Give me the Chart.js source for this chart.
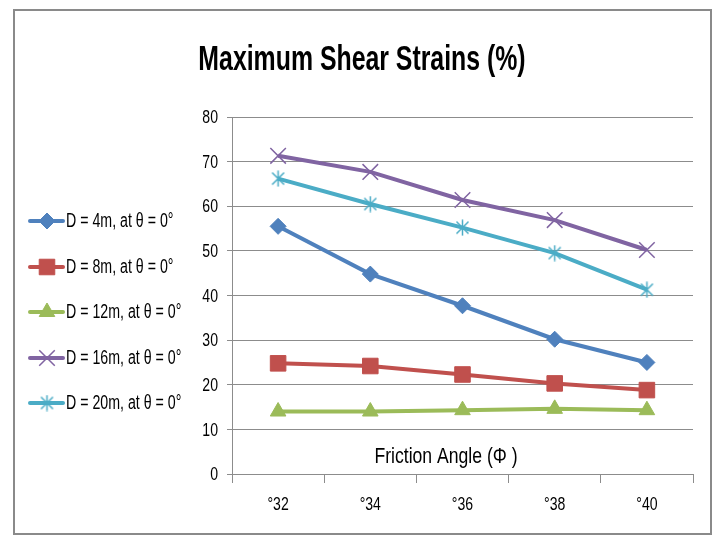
<!DOCTYPE html>
<html>
<head>
<meta charset="utf-8">
<style>
  html, body { margin: 0; padding: 0; background: #ffffff; }
  #wrap { width: 720px; height: 536px; position: relative; }
</style>
<script src="https://cdn.jsdelivr.net/npm/chart.js@4/dist/chart.umd.min.js"></script>
</head>
<body>
<div id="wrap"><canvas id="chart" width="720" height="536"></canvas></div>
<script>
// Friction angle categories (degree sign placed before the number, as printed)
const categories = ['°32', '°34', '°36', '°38', '°40'];

// Maximum shear strain (%) per tunnel depth, at θ = 0°
const strainD4  = [55.5, 44.8, 37.7, 30.2, 25.0];
const strainD8  = [24.8, 24.2, 22.3, 20.3, 18.8];
const strainD12 = [14.0, 14.0, 14.3, 14.6, 14.3];
const strainD16 = [71.3, 67.7, 61.4, 56.9, 50.2];
const strainD20 = [66.2, 60.5, 55.2, 49.5, 41.3];

const seriesNames = [
  'D = 4m, at θ = 0°',
  'D = 8m, at θ = 0°',
  'D = 12m, at θ = 0°',
  'D = 16m, at θ = 0°',
  'D = 20m, at θ = 0°'
];

const chartTitle = 'Maximum Shear Strains (%)';
const xAxisTitle = 'Friction Angle (Φ )';
const yMin = 0, yMax = 80, yStep = 10;

const FONT = "'Liberation Sans', Arial, sans-serif";
const GRID = '#8c8c8c';

// Draw text with a horizontal squeeze to get a tall, narrow face
function narrowText(ctx, text, x, y, o) {
  ctx.save();
  ctx.font = (o.bold ? 'bold ' : '') + o.size + 'px ' + FONT;
  ctx.fillStyle = o.color || '#000000';
  ctx.textAlign = o.align || 'left';
  ctx.textBaseline = o.baseline || 'middle';
  ctx.translate(x, y);
  ctx.scale(o.sx, 1);
  ctx.fillText(text, 0, 0);
  ctx.restore();
}

// Asterisk marker: an X with a vertical stroke
function makeAsterisk(color) {
  const c = document.createElement('canvas');
  c.width = 17; c.height = 17;
  const g = c.getContext('2d');
  g.strokeStyle = color;
  g.lineWidth = 1.5;
  g.beginPath();
  g.moveTo(2.5, 2.5); g.lineTo(14.5, 14.5);
  g.moveTo(14.5, 2.5); g.lineTo(2.5, 14.5);
  g.moveTo(8.5, 0.5); g.lineTo(8.5, 16.5);
  g.stroke();
  return c;
}

const colors = ['#4F81BD', '#C0504D', '#9BBB59', '#8064A2', '#4BACC6'];
const markers = [
  { style: 'rectRot', radius: 8, bw: 1 },
  { style: 'rect', radius: 11, bw: 1 },
  { style: 'triangle', radius: 9, bw: 1 },
  { style: 'crossRot', radius: 11, bw: 1.5 },
  { style: makeAsterisk('#4BACC6'), radius: 8, bw: 1 }
];
const seriesData = [strainD4, strainD8, strainD12, strainD16, strainD20];

const datasets = seriesData.map((vals, i) => ({
  label: seriesNames[i],
  data: vals,
  borderColor: colors[i],
  backgroundColor: colors[i],
  borderWidth: 4,
  tension: 0,
  pointStyle: markers[i].style,
  pointRadius: markers[i].radius,
  pointHoverRadius: markers[i].radius,
  pointBackgroundColor: colors[i],
  pointBorderColor: colors[i],
  pointBorderWidth: markers[i].bw,
  order: seriesData.length - i
}));

// White page, outer frame and title
const framePlugin = {
  id: 'frame',
  beforeDraw(chart) {
    const ctx = chart.ctx;
    ctx.save();
    ctx.fillStyle = '#ffffff';
    ctx.fillRect(0, 0, chart.width, chart.height);
    ctx.restore();
  },
  afterDraw(chart) {
    const ctx = chart.ctx;
    ctx.save();
    ctx.strokeStyle = '#8a8a8a';
    ctx.lineWidth = 2;
    ctx.strokeRect(14, 10, 697, 524);
    ctx.restore();
    narrowText(ctx, chartTitle, 362, 70, { size: 35, bold: true, sx: 0.71, align: 'center', baseline: 'alphabetic' });
  }
};

// Tick labels taken from the chart's own scales
const tickText = {
  id: 'tickText',
  afterDraw(chart) {
    const ctx = chart.ctx;
    const ys = chart.scales.y, xs = chart.scales.x;
    ys.ticks.forEach((t) => {
      narrowText(ctx, String(t.value), ys.right - 14, ys.getPixelForValue(t.value) + 1,
        { size: 19, sx: 0.74, align: 'right' });
    });
    xs.ticks.forEach((t, i) => {
      narrowText(ctx, chart.data.labels[t.value], xs.getPixelForTick(i), xs.top + 31,
        { size: 19, sx: 0.74, align: 'center' });
    });
  }
};

// Legend on the left: line segment + marker + label
const sideLegend = {
  id: 'sideLegend',
  afterDraw(chart) {
    const ctx = chart.ctx;
    const x0 = 30, x1 = 63, textX = 66;
    const firstY = 221, stepY = 45.5;
    chart.data.datasets.forEach((ds, i) => {
      const y = Math.round(firstY + i * stepY);
      ctx.save();
      ctx.strokeStyle = ds.borderColor;
      ctx.lineWidth = 4;
      ctx.lineCap = 'round';
      ctx.beginPath();
      ctx.moveTo(x0, y);
      ctx.lineTo(x1, y);
      ctx.stroke();
      ctx.fillStyle = ds.pointBackgroundColor;
      ctx.strokeStyle = ds.pointBorderColor;
      ctx.lineWidth = ds.pointBorderWidth;
      ctx.lineCap = 'butt';
      Chart.helpers.drawPoint(ctx, {
        pointStyle: ds.pointStyle,
        radius: ds.pointRadius,
        rotation: 0,
        borderWidth: ds.pointBorderWidth
      }, 47, y);
      ctx.restore();
      narrowText(ctx, ds.label, textX, y, { size: 20, sx: 0.71, align: 'left' });
    });
  }
};

// Axis caption placed inside the plot, above the category axis
const axisCaption = {
  id: 'axisCaption',
  afterDatasetsDraw(chart) {
    const a = chart.chartArea;
    narrowText(chart.ctx, xAxisTitle, a.left + 214, a.bottom - 17,
      { size: 22, sx: 0.8, align: 'center' });
  }
};

new Chart(document.getElementById('chart'), {
  type: 'line',
  data: { labels: categories, datasets },
  options: {
    responsive: false,
    animation: false,
    devicePixelRatio: 1,
    layout: { padding: { left: 192, right: 27, top: 117, bottom: 0 } },
    plugins: {
      legend: { display: false },
      tooltip: { enabled: false },
      title: { display: false }
    },
    scales: {
      x: {
        offset: true,
        grid: { display: true, drawOnChartArea: false, offset: true, tickLength: 9, color: GRID },
        border: { display: true, color: GRID, width: 1 },
        ticks: { display: false },
        afterFit(s) { s.height = 62; }
      },
      y: {
        min: yMin,
        max: yMax,
        ticks: { stepSize: yStep, display: false },
        grid: { color: GRID, tickLength: 5 },
        border: { display: true, color: GRID, width: 1 },
        afterFit(s) { s.width = 40; }
      }
    }
  },
  plugins: [framePlugin, tickText, sideLegend, axisCaption]
});
</script>
</body>
</html>
